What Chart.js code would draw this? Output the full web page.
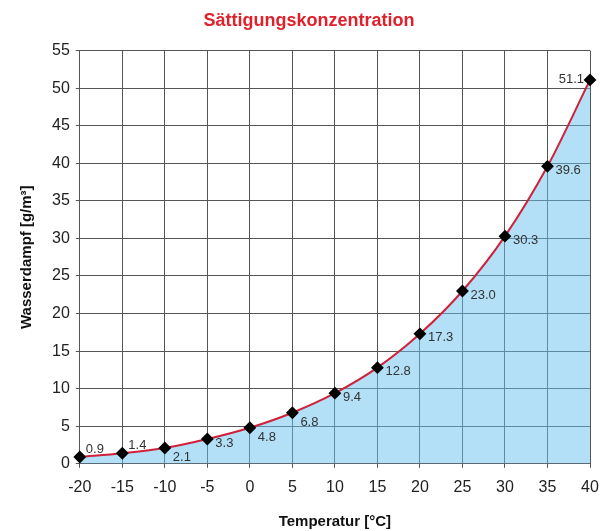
<!DOCTYPE html>
<html>
<head>
<meta charset="utf-8">
<script src="https://cdn.jsdelivr.net/npm/chart.js@4.4.1/dist/chart.umd.min.js"></script>
<style>
 html, body { margin: 0; padding: 0; background: #fff; }
 #wrap { width: 600px; height: 531px; }
</style>
</head>
<body>
<div id="wrap"><canvas id="chart"></canvas></div>
<script>
// Temperatur [°C]
var temperatures = [-20, -15, -10, -5, 0, 5, 10, 15, 20, 25, 30, 35, 40];
// Wasserdampf [g/m³]
var vapour = [0.9, 1.4, 2.1, 3.3, 4.8, 6.8, 9.4, 12.8, 17.3, 23.0, 30.3, 39.6, 51.1];
var valueLabels = ["0.9", "1.4", "2.1", "3.3", "4.8", "6.8", "9.4", "12.8", "17.3", "23.0", "30.3", "39.6", "51.1"];
var xTicks = [-20, -15, -10, -5, 0, 5, 10, 15, 20, 25, 30, 35, 40];
var yTicks = [0, 5, 10, 15, 20, 25, 30, 35, 40, 45, 50, 55];

// where each value label sits relative to its point
var labelSide = ["ne", "ne", "se", "e", "se", "se", "e", "e", "e", "e", "e", "e", "w"];

var points = temperatures.map(function (t, i) {
 return { x: t, y: vapour[i] };
});

var pointLabels = {
 id: "pointLabels",
 afterDatasetsDraw: function (chart) {
  var ctx = chart.ctx;
  var meta = chart.getDatasetMeta(0);
  ctx.save();
  ctx.font = "13px 'Liberation Sans', Arial, sans-serif";
  ctx.fillStyle = "#333";
  meta.data.forEach(function (el, i) {
   var side = labelSide[i];
   var x = el.x, y = el.y;
   if (side === "ne") {
    ctx.textAlign = "left"; ctx.textBaseline = "bottom";
    ctx.fillText(valueLabels[i], x + 6, y - 1);
   } else if (side === "se") {
    ctx.textAlign = "left"; ctx.textBaseline = "top";
    ctx.fillText(valueLabels[i], x + 8, y + 3);
   } else if (side === "w") {
    ctx.textAlign = "right"; ctx.textBaseline = "middle";
    ctx.fillText(valueLabels[i], x - 6, y);
   } else {
    ctx.textAlign = "left"; ctx.textBaseline = "middle";
    ctx.fillText(valueLabels[i], x + 8, y + 4);
   }
  });
  ctx.restore();
 }
};

var ctx = document.getElementById("chart");

new Chart(ctx, {
 type: "line",
 data: {
  datasets: [
   {
    label: "Wasserdampf",
    data: points,
    borderColor: "#d0203a",
    borderWidth: 2,
    // half transparent so the grid shows through the fill
    backgroundColor: "rgba(103, 193, 239, 0.5)",
    fill: "origin",
    cubicInterpolationMode: "monotone",
    pointStyle: "rectRot",
    pointRadius: 5,
    pointBackgroundColor: "#000",
    pointBorderColor: "#000",
    clip: false,
   },
  ],
 },
 options: {
  responsive: true,
  maintainAspectRatio: false,
  animation: false,
  layout: {
   padding: { left: 18, right: 0, top: 0, bottom: 0 },
  },
  plugins: {
   legend: { display: false },
   tooltip: { enabled: false },
   title: {
    display: true,
    text: "Sättigungskonzentration",
    color: "#e0202a",
    font: { family: "'Liberation Sans', Arial, sans-serif", size: 18, weight: "bold" },
    padding: { top: 10, bottom: 19 },
   },
  },
  scales: {
   x: {
    type: "linear",
    min: -20,
    max: 40,
    afterBuildTicks: function (axis) {
     axis.ticks = xTicks.map(function (v) { return { value: v }; });
    },
    afterFit: function (axis) {
     // only leave room for half of the "40" label on the right
     axis.paddingRight = 10;
    },
    grid: { color: "#555", lineWidth: 1, drawTicks: true, tickLength: 4 },
    border: { color: "#555", width: 1 },
    ticks: {
     color: "#222",
     font: { family: "'Liberation Sans', Arial, sans-serif", size: 16 },
     padding: 10,
     maxRotation: 0,
    },
    title: {
     display: true,
     text: "Temperatur [°C]",
     color: "#111",
     font: { family: "'Liberation Sans', Arial, sans-serif", size: 15, weight: "bold" },
     padding: { top: 6, bottom: 0 },
    },
   },
   y: {
    min: 0,
    max: 55,
    afterBuildTicks: function (axis) {
     axis.ticks = yTicks.map(function (v) { return { value: v }; });
    },
    grid: { color: "#555", lineWidth: 1, drawTicks: true, tickLength: 4 },
    border: { color: "#555", width: 1 },
    ticks: {
     color: "#222",
     font: { family: "'Liberation Sans', Arial, sans-serif", size: 16 },
     padding: 6,
    },
    title: {
     display: true,
     text: "Wasserdampf [g/m³]",
     color: "#111",
     font: { family: "'Liberation Sans', Arial, sans-serif", size: 15, weight: "bold" },
     padding: { top: 0, bottom: 10 },
    },
   },
  },
 },
 plugins: [pointLabels],
});
</script>
</body>
</html>
